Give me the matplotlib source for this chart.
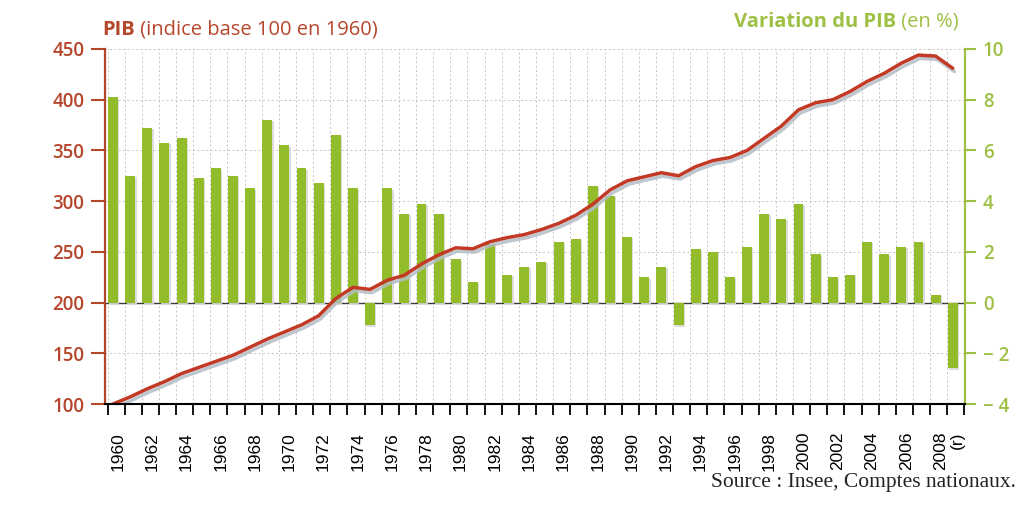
import matplotlib
matplotlib.use('Agg')
import matplotlib.pyplot as plt
import matplotlib.patheffects as pe
from matplotlib.ticker import FixedLocator
import numpy as np

# années 1960 -> 2009
years = np.arange(1960, 2010)

# variation du PIB en % (barres, axe droit)
variation = [8.1, 5.0, 6.9, 6.3, 6.5, 4.9, 5.3, 5.0, 4.5, 7.2,
             6.2, 5.3, 4.7, 6.6, 4.5, -0.9, 4.5, 3.5, 3.9, 3.5,
             1.7, 0.8, 2.3, 1.1, 1.4, 1.6, 2.4, 2.5, 4.6, 4.2,
             2.6, 1.0, 1.4, -0.9, 2.1, 2.0, 1.0, 2.2, 3.5, 3.3,
             3.9, 1.9, 1.0, 1.1, 2.4, 1.9, 2.2, 2.4, 0.3, -2.6]

# PIB indice base 100 en 1960 (courbe, axe gauche)
pib = [100, 107, 115, 122, 130, 136, 142, 148, 156, 164,
       171, 178, 187, 204, 215, 213, 222, 227, 238, 247,
       254, 253, 260, 264, 267, 272, 278, 286, 297, 311,
       320, 324, 328, 325, 334, 340, 343, 350, 362, 374,
       390, 397, 400, 408, 418, 426, 436, 444, 443, 431]

left_ticks = [100, 150, 200, 250, 300, 350, 400, 450]
right_ticks = [-4, -2, 0, 2, 4, 6, 8, 10]
right_labels = ['\u2212 4', '\u2212 2', '0', '2', '4', '6', '8', '10']
year_labels = ['1960', '1962', '1964', '1966', '1968', '1970', '1972', '1974',
               '1976', '1978', '1980', '1982', '1984', '1986', '1988', '1990',
               '1992', '1994', '1996', '1998', '2000', '2002', '2004', '2006',
               '2008', '(r)']
label_years = [1960, 1962, 1964, 1966, 1968, 1970, 1972, 1974, 1976, 1978,
               1980, 1982, 1984, 1986, 1988, 1990, 1992, 1994, 1996, 1998,
               2000, 2002, 2004, 2006, 2008, 2009]

RED = '#b5462c'
LINE_RED = '#c23a26'
GREEN = '#93bc2a'
GREEN_TXT = '#9dc044'

fig = plt.figure(figsize=(10.26, 5.05), dpi=100)
ax = fig.add_axes([0.1023, 0.2, 0.838, 0.703])
ax2 = ax.twinx()
ax.set_zorder(2)
ax.patch.set_visible(False)

# barres
ax2.bar(years + 0.03, variation, width=0.58, align='edge', color=GREEN,
        zorder=3, path_effects=[pe.SimplePatchShadow(offset=(1, -1),
                                                     shadow_rgbFace='#d9d9d9', alpha=0.9),
                                pe.Normal()])
ax2.axhline(0, color='#3a3a3a', lw=1.0, zorder=2)
ax2.set_ylim(-4, 10)
ax2.set_yticks(right_ticks, right_labels)

# courbe
ax.plot(years + 0.32, pib, color=LINE_RED, lw=2.5, solid_capstyle='round',
        path_effects=[pe.SimpleLineShadow(offset=(1.2, -2.4), shadow_color='#b4bdc6', alpha=0.85),
                      pe.Normal()])
ax.set_ylim(100, 450)
ax.set_yticks(left_ticks)
ax.set_xlim(1959.85, 2010.02)

# axe x
ax.xaxis.set_minor_locator(FixedLocator(list(range(1960, 2011))))
ax.set_xticks([y + 0.6 for y in label_years], year_labels, rotation=90)
ax.tick_params(axis='x', which='major', length=0, pad=20, labelsize=12.5)
ax.tick_params(axis='x', which='minor', length=8, width=1.3, color='black', direction='out')
for t in ax.get_xticklabels():
    t.set_fontfamily('Liberation Sans')

# grille en pointillés (derrière les barres)
ax2.xaxis.set_visible(True)
ax2.tick_params(axis='x', which='both', bottom=False, top=False,
                labelbottom=False, labeltop=False)
ax2.grid(True, axis='x', which='minor', color='#c4c4c4', lw=0.7, ls=(0, (2, 2.5)), zorder=0)
ax2.grid(True, axis='y', which='major', color='#c4c4c4', lw=0.7, ls=(0, (2, 2.5)), zorder=0)
ax2.set_axisbelow(True)

# axes gauche / droite
for a in (ax, ax2):
    a.spines['top'].set_visible(False)
ax.spines['right'].set_visible(False)
ax2.spines['left'].set_visible(False)
ax.spines['left'].set_color(RED)
ax.spines['left'].set_linewidth(1.6)
ax.spines['bottom'].set_color('black')
ax.spines['bottom'].set_linewidth(1.5)
ax2.spines['bottom'].set_visible(False)
ax2.spines['right'].set_color(GREEN_TXT)
ax2.spines['right'].set_linewidth(1.6)

ax.tick_params(axis='y', length=10, width=1.5, color=RED, labelcolor=RED,
               labelsize=13.5, pad=5)
ax2.tick_params(axis='y', length=8, width=1.5, color=GREEN_TXT, labelcolor=GREEN_TXT,
                labelsize=13.5, pad=5)
for t in ax.get_yticklabels() + ax2.get_yticklabels():
    t.set_fontfamily('Open Sans')
    t.set_fontweight('semibold')

# titres
t1 = fig.text(0.1, 0.931, 'PIB', color=RED, fontsize=14.5, fontweight='bold',
              family='Open Sans', ha='left', va='baseline')
ax.annotate(' (indice base 100 en 1960)', xy=(1, 0), xycoords=t1, color=RED,
            fontsize=14.5, family='Open Sans', ha='left', va='bottom',
            annotation_clip=False)
t2 = fig.text(0.934, 0.947, ' (en %)', color=GREEN_TXT, fontsize=14.5,
              family='Open Sans', ha='right', va='baseline')
ax.annotate('Variation du PIB', xy=(0, 0), xycoords=t2, color=GREEN_TXT,
            fontsize=14.5, fontweight='bold', family='Open Sans', ha='right', va='bottom',
            annotation_clip=False)

fig.text(0.99, 0.036, 'Source : Insee, Comptes nationaux.', family='Liberation Serif',
         fontsize=15.5, ha='right', va='baseline', color='#222222')

fig.savefig('out.png', dpi=100)
